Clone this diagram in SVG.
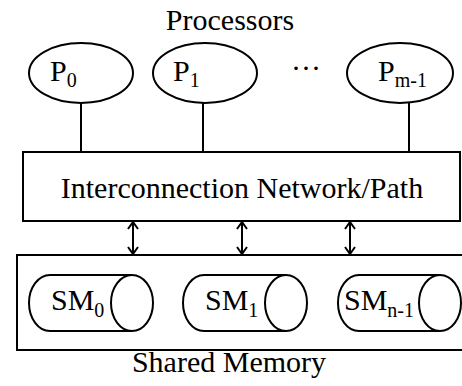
<svg xmlns="http://www.w3.org/2000/svg" width="462" height="386" viewBox="0 0 462 386">
<defs>
<style>
.s{fill:none;stroke:#000;stroke-width:2}
.w{fill:#fff;stroke:#000;stroke-width:2}
text{font-family:'Liberation Serif','Times New Roman','DejaVu Serif',serif;font-size:30px;fill:#000}
.sub{font-size:20px}
</style>
<marker id="ah" viewBox="0 0 10 12" refX="9" refY="6" markerWidth="10" markerHeight="12" markerUnits="userSpaceOnUse" orient="auto-start-reverse">
<path d="M2,1 L9,6 L2,11" fill="none" stroke="#000" stroke-width="2"/>
</marker>
</defs>
<rect width="462" height="386" fill="#fff"/>
<text x="230" y="30" text-anchor="middle" font-family="Liberation Serif, serif">Processors</text>
<g id="connectors">
<line class="s" x1="81" y1="103" x2="81" y2="152"/>
<line class="s" x1="203" y1="103" x2="203" y2="152"/>
<line class="s" x1="409" y1="102" x2="409" y2="152"/>
<line class="s" x1="133" y1="222" x2="133" y2="254" marker-start="url(#ah)" marker-end="url(#ah)"/>
<line class="s" x1="242" y1="222" x2="242" y2="254" marker-start="url(#ah)" marker-end="url(#ah)"/>
<line class="s" x1="350" y1="222" x2="350" y2="254" marker-start="url(#ah)" marker-end="url(#ah)"/>
</g>
<g id="p0">
<ellipse class="w" cx="81" cy="73" rx="52" ry="30"/>
<text x="50" y="81" font-family="Liberation Serif, serif">P<tspan class="sub" dy="6">0</tspan></text>
</g>
<g id="p1">
<ellipse class="w" cx="205" cy="73" rx="52" ry="30"/>
<text x="173" y="81" font-family="Liberation Serif, serif">P<tspan class="sub" dy="6">1</tspan></text>
</g>
<text x="306" y="78" text-anchor="middle" font-family="Liberation Serif, serif">···</text>
<g id="pm1">
<ellipse class="w" cx="400" cy="73" rx="53" ry="30"/>
<text x="378" y="81" font-family="Liberation Serif, serif">P<tspan class="sub" dy="6">m-1</tspan></text>
</g>
<g id="network">
<rect class="w" x="23" y="152" width="437" height="69"/>
<text x="242" y="198" text-anchor="middle" font-family="Liberation Serif, serif">Interconnection Network/Path</text>
</g>
<g id="shared-memory">
<rect class="w" x="17" y="255" width="460" height="95"/>
<text x="229" y="372" text-anchor="middle" font-family="Liberation Serif, serif">Shared Memory</text>
</g>
<g id="sm0">
<path class="s" d="M132,275 H50 A21,28 0 0 0 50,331 H132"/>
<ellipse class="w" cx="132" cy="303" rx="21" ry="28"/>
<text x="51" y="310" font-family="Liberation Serif, serif">SM<tspan class="sub" dy="7">0</tspan></text>
</g>
<g id="sm1">
<path class="s" d="M286,275 H204 A21,28 0 0 0 204,331 H286"/>
<ellipse class="w" cx="286" cy="303" rx="21" ry="28"/>
<text x="205" y="310" font-family="Liberation Serif, serif">SM<tspan class="sub" dy="7">1</tspan></text>
</g>
<g id="smn1">
<path class="s" d="M440,275 H359 A21,28 0 0 0 359,331 H440"/>
<ellipse class="w" cx="440" cy="303" rx="21" ry="28"/>
<text x="344" y="310" font-family="Liberation Serif, serif">SM<tspan class="sub" dy="7">n-1</tspan></text>
</g>
</svg>
